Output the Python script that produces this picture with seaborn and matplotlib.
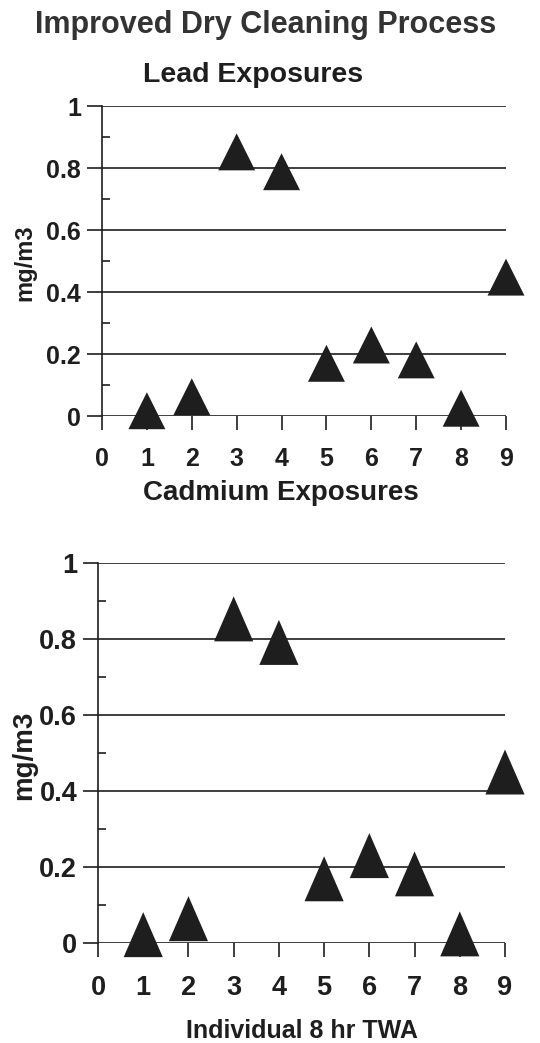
import matplotlib
matplotlib.use("Agg")
import matplotlib.pyplot as plt
import seaborn as sns
import numpy as np
from matplotlib.ticker import MultipleLocator

workers = [1, 2, 3, 4, 5, 6, 7, 8, 9]
lead = [0.017, 0.062, 0.852, 0.788, 0.170, 0.229, 0.181, 0.025, 0.448]
cadmium = [0.022, 0.064, 0.853, 0.791, 0.169, 0.230, 0.182, 0.024, 0.450]
y_ticks = [0, 0.2, 0.4, 0.6, 0.8, 1]
y_tick_labels = ["0", "0.2", "0.4", "0.6", "0.8", "1"]
x_ticks = [0, 1, 2, 3, 4, 5, 6, 7, 8, 9]

sns.set_style("white")
plt.rcParams['font.family'] = ['Liberation Sans', 'DejaVu Sans']
plt.rcParams['font.weight'] = 'bold'

INK = "#1e1e1e"
W, H = 540, 1043
fig = plt.figure(figsize=(W / 100, H / 100), dpi=100)
fig.patch.set_facecolor("white")

def px_axes(x0, x1, ytop, ybot):
    return fig.add_axes([x0 / W, 1 - ybot / H, (x1 - x0) / W, (ybot - ytop) / H])

ax1 = px_axes(102, 506, 106, 416)
ax2 = px_axes(98, 505, 563, 943)

tri_tall = [(0, 1), (-0.87, -1), (0.87, -1)]

def style(ax, data, marker, s, tick_fs, ylab_fs, ylab_x, xpad):
    sns.scatterplot(x=workers, y=data, marker=marker, s=s, color=INK,
                    edgecolor="none", linewidth=0, ax=ax, clip_on=False, zorder=5)
    ax.set_xlim(0, 9)
    ax.set_ylim(0, 1)
    ax.set_facecolor("none")
    for sp in ["top", "right", "bottom"]:
        ax.spines[sp].set_visible(False)
    ax.spines["left"].set_color(INK)
    ax.spines["left"].set_linewidth(1.2)
    ax.set_yticks(y_ticks)
    ax.set_yticklabels(y_tick_labels, fontsize=tick_fs, fontweight="bold", color=INK)
    ax.yaxis.set_minor_locator(MultipleLocator(0.1))
    ax.set_xticks(x_ticks)
    ax.set_xticklabels([str(v) for v in x_ticks], fontsize=tick_fs, fontweight="bold", color=INK)
    ax.tick_params(axis="y", which="major", direction="out", length=11, width=1.2,
                   color=INK, pad=4, left=True)
    ax.tick_params(axis="y", which="minor", direction="in", length=6, width=1.2,
                   color=INK, left=True)
    ax.tick_params(axis="x", which="major", direction="out", length=10, width=1.2,
                   color=INK, pad=xpad, bottom=True)
    ax.grid(axis="y", which="major", color=INK, linewidth=1.2)
    ax.grid(axis="x", visible=False)
    ax.set_axisbelow(True)
    ax.set_ylabel("mg/m3", fontsize=ylab_fs, fontweight="bold", color=INK, va="center")
    ax.yaxis.set_label_coords(ylab_x, 0.495)
    ax.set_xlabel("")

style(ax1, lead, "^", 26.6 ** 2, 18, 17, (25 - 102) / 404, 12)
style(ax2, cadmium, tri_tall, 32.4 ** 2, 19.5, 20, (24 - 98) / 407, 13)

ax2.set_xlabel("Individual 8 hr TWA", fontsize=18, fontweight="bold", color=INK, labelpad=13)

fig.text(266 / W, 1 - 25 / H, "Improved Dry Cleaning Process", fontsize=22,
         fontweight="bold", color="#333333", ha="center", va="center")
fig.text(253 / W, 1 - 75 / H, "Lead Exposures", fontsize=20.5,
         fontweight="bold", color=INK, ha="center", va="center")
fig.text(281 / W, 1 - 493 / H, "Cadmium Exposures", fontsize=20,
         fontweight="bold", color=INK, ha="center", va="center")

fig.savefig("out.png", dpi=100, facecolor="white")
